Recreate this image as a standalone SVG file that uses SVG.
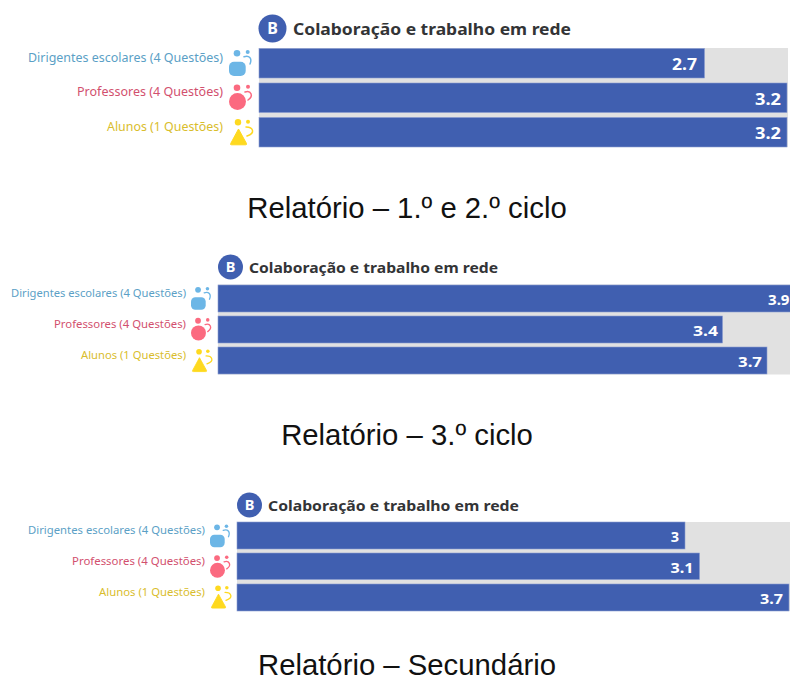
<svg xmlns="http://www.w3.org/2000/svg" width="790" height="678" viewBox="0 0 790 678">
<style>
text{font-family:"Noto Sans","Open Sans","Liberation Sans",sans-serif}
.t{font-weight:700;fill:#333436}
.l{text-anchor:end}
.d{fill:#5b9fc6}.p{fill:#d2506e}.a{fill:#d9bd2c}
.v{font-weight:700;fill:#fff;text-anchor:end}
.c{font-family:"Liberation Sans",Arial,sans-serif;font-size:29.300px;fill:#111;text-anchor:middle}
.bg{fill:#e1e1e1}.bar{fill:#405fb0;stroke:#8a9dd0;stroke-width:.6}
.lt{fill:#fff;font-weight:700;text-anchor:middle}
.ic{fill:none;stroke-width:1.500;stroke-linecap:round}
</style>
<defs>
<g id="i-d" fill="#6cb6e6"><circle cx="8" cy="4.300" r="3.300"/><circle cx="18.700" cy="3" r="2"/><rect x="0" y="12.700" width="16.700" height="14.300" rx="5"/><path class="ic" stroke="#6cb6e6" d="M15 7.700 C20 6 23.500 9 21 15"/></g>
<g id="i-p" fill="#fb6a80"><circle cx="8" cy="3.700" r="3.300"/><circle cx="19" cy="2.700" r="2"/><circle cx="8.500" cy="17.500" r="8.500"/><path class="ic" stroke="#fb6a80" d="M16 8 C22 6 25 12 19 16"/></g>
<g id="i-a" fill="#fed91f"><circle cx="8" cy="4.300" r="3.200"/><circle cx="18" cy="3.700" r="2"/><path d="M8.500 11 L16.500 25.500 Q17 26.800 15.500 26.800 L1.500 26.800 Q0 26.800 .7 25.500 Z" stroke="#fed91f" stroke-linejoin="round"/><path class="ic" stroke="#fed91f" d="M16 9 C23 9 26 15 17 18"/></g>
</defs>

<g id="panel-1">
<circle cx="272.500" cy="28.500" r="14" fill="#405fb0"/>
<text class="lt" x="272.500" y="34" font-size="16">B</text>
<text class="t" x="293" y="35" font-size="16" textLength="278" lengthAdjust="spacingAndGlyphs">Colaboração e trabalho em rede</text>
<rect class="bg" x="259" y="48" width="529" height="99"/>
<rect class="bar" x="259" y="48.500" width="445.500" height="29.500"/>
<rect class="bar" x="259" y="83" width="528" height="29.500"/>
<rect class="bar" x="259" y="117.500" width="528" height="29.500"/>
<text class="v" x="697" y="70" font-size="16.500" textLength="25" lengthAdjust="spacingAndGlyphs">2.7</text>
<text class="v" x="781" y="104.500" font-size="16.500" textLength="26" lengthAdjust="spacingAndGlyphs">3.2</text>
<text class="v" x="781" y="139" font-size="16.500" textLength="26" lengthAdjust="spacingAndGlyphs">3.2</text>
<text class="l d" x="223" y="62" font-size="12.500" textLength="195" lengthAdjust="spacingAndGlyphs">Dirigentes escolares (4 Questões)</text>
<text class="l p" x="223" y="96" font-size="12.500" textLength="146" lengthAdjust="spacingAndGlyphs">Professores (4 Questões)</text>
<text class="l a" x="223" y="130.500" font-size="12.500" textLength="116" lengthAdjust="spacingAndGlyphs">Alunos (1 Questões)</text>
<use href="#i-d" x="229" y="49"/>
<use href="#i-p" x="229" y="84"/>
<use href="#i-a" x="230" y="118"/>
<text class="c" x="407" y="218">Relatório – 1.º e 2.º ciclo</text>
</g>

<g id="panel-2">
<circle cx="230.500" cy="267" r="12.500" fill="#405fb0"/>
<text class="lt" x="230.500" y="272" font-size="14.500">B</text>
<text class="t" x="249" y="272.500" font-size="14.500" textLength="249" lengthAdjust="spacingAndGlyphs">Colaboração e trabalho em rede</text>
<rect class="bg" x="218" y="284.500" width="572" height="90"/>
<rect class="bar" x="218" y="285" width="574" height="27"/>
<rect class="bar" x="218" y="316" width="504.500" height="27"/>
<rect class="bar" x="218" y="347" width="549" height="27"/>
<text class="v" x="789.500" y="305" font-size="14.500" textLength="21.500" lengthAdjust="spacingAndGlyphs">3.9</text>
<text class="v" x="718" y="335.500" font-size="14.500" textLength="25" lengthAdjust="spacingAndGlyphs">3.4</text>
<text class="v" x="762" y="366.500" font-size="14.500" textLength="24" lengthAdjust="spacingAndGlyphs">3.7</text>
<text class="l d" x="186" y="297" font-size="11.500" textLength="175" lengthAdjust="spacingAndGlyphs">Dirigentes escolares (4 Questões)</text>
<text class="l p" x="186" y="328" font-size="11.500" textLength="132" lengthAdjust="spacingAndGlyphs">Professores (4 Questões)</text>
<text class="l a" x="186" y="359" font-size="11.500" textLength="105" lengthAdjust="spacingAndGlyphs">Alunos (1 Questões)</text>
<use href="#i-d" transform="translate(191,286) scale(.88)"/>
<use href="#i-p" transform="translate(191,317.500) scale(.88)"/>
<use href="#i-a" transform="translate(192,348) scale(.88)"/>
<text class="c" x="407" y="445">Relatório – 3.º ciclo</text>
</g>

<g id="panel-3">
<circle cx="249.500" cy="505" r="12.500" fill="#405fb0"/>
<text class="lt" x="249.500" y="510" font-size="14.500">B</text>
<text class="t" x="268" y="510.500" font-size="14.500" textLength="251" lengthAdjust="spacingAndGlyphs">Colaboração e trabalho em rede</text>
<rect class="bg" x="237" y="522" width="553" height="89"/>
<rect class="bar" x="237" y="522" width="448" height="27"/>
<rect class="bar" x="237" y="553" width="462.500" height="26.500"/>
<rect class="bar" x="237" y="584" width="552" height="27"/>
<text class="v" x="679" y="542" font-size="14.500">3</text>
<text class="v" x="693.500" y="572.500" font-size="14.500" textLength="23" lengthAdjust="spacingAndGlyphs">3.1</text>
<text class="v" x="783" y="603.500" font-size="14.500" textLength="23" lengthAdjust="spacingAndGlyphs">3.7</text>
<text class="l d" x="205" y="534" font-size="11.500" textLength="177" lengthAdjust="spacingAndGlyphs">Dirigentes escolares (4 Questões)</text>
<text class="l p" x="205" y="565" font-size="11.500" textLength="133" lengthAdjust="spacingAndGlyphs">Professores (4 Questões)</text>
<text class="l a" x="205" y="596" font-size="11.500" textLength="106" lengthAdjust="spacingAndGlyphs">Alunos (1 Questões)</text>
<use href="#i-d" transform="translate(210,523.500) scale(.88)"/>
<use href="#i-p" transform="translate(210,554.800) scale(.88)"/>
<use href="#i-a" transform="translate(211,584.500) scale(.88)"/>
<text class="c" x="407" y="675">Relatório – Secundário</text>
</g>
</svg>
